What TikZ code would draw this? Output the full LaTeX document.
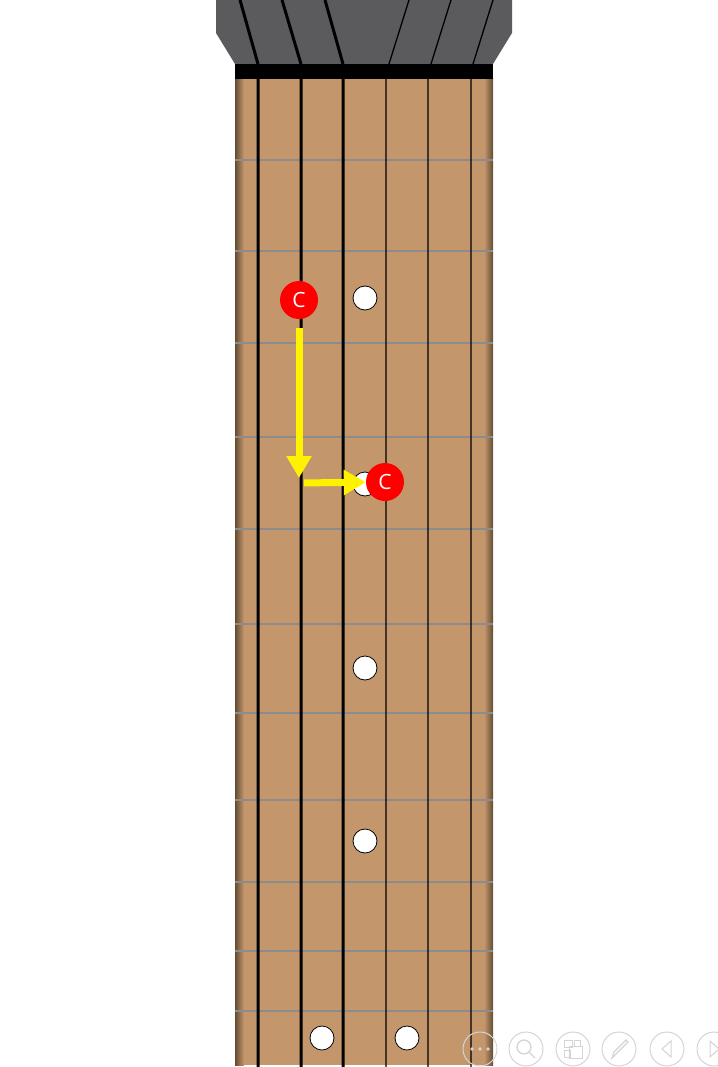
\documentclass[tikz,border=0pt]{standalone}
\usepackage{fontspec}
\setsansfont{Open Sans}
\usetikzlibrary{arrows.meta}

\definecolor{fretboard}{RGB}{195,151,107}
\definecolor{fretedge}{RGB}{100,76,52}
\definecolor{headstock}{RGB}{91,91,93}
\definecolor{fretwire}{RGB}{140,140,140}
\definecolor{iconline}{RGB}{212,212,212}

\tikzset{
    dot/.style={shape=circle, draw=black, fill=white, line width=0.8pt, minimum size=24pt, inner sep=0pt},
    note/.style={shape=circle, fill=red, text=white, minimum size=38pt, inner sep=0pt, font=\sffamily\fontsize{21}{24}\selectfont},
    move/.style={draw=yellow, line width=7pt, -{Triangle[width=24pt,length=22pt]}},
    thickstring/.style={line width=3pt},
    thinstring/.style={line width=1.3pt},
    toolbtn/.style={draw=iconline, line width=1pt}
}

\begin{document}
\begin{tikzpicture}[x=1pt, y=-1pt]
        \useasboundingbox (0,0) rectangle (717,1067);
        \fill[headstock] (216,0) -- (512,0) -- (512,33) -- (493,64) -- (235,64) -- (216,33) -- cycle;  % headstock
        \fill[fretboard] (235,79) rectangle (493,1065);                                           % fretboard
        \shade[left color=fretedge, right color=fretboard] (235,79) rectangle (244,1065);         % left edge
        \shade[left color=fretboard, right color=fretedge] (484,79) rectangle (493,1065);         % right edge
        \draw[fretwire, line width=1.3pt] (235,160) -- (493,160);
        \draw[fretwire, line width=1.3pt] (235,251) -- (493,251);
        \draw[fretwire, line width=1.3pt] (235,343) -- (493,343);
        \draw[fretwire, line width=1.3pt] (235,437) -- (493,437);
        \draw[fretwire, line width=1.3pt] (235,529) -- (493,529);
        \draw[fretwire, line width=1.3pt] (235,624) -- (493,624);
        \draw[fretwire, line width=1.3pt] (235,713) -- (493,713);
        \draw[fretwire, line width=1.3pt] (235,800) -- (493,800);
        \draw[fretwire, line width=1.3pt] (235,882) -- (493,882);
        \draw[fretwire, line width=1.3pt] (235,951) -- (493,951);
        \draw[fretwire, line width=1.3pt] (235,1011) -- (493,1011);
        \draw[thickstring] (240,0) -- (258,64) (258,79) -- (258,1067);   % string 6
        \draw[thickstring] (282,0) -- (301,64) (301,79) -- (301,1067);   % string 5
        \draw[thickstring] (325,0) -- (343,64) (343,79) -- (343,1067);   % string 4
        \draw[thinstring] (409,0) -- (389,64) (386,79) -- (386,1067);    % string 3
        \draw[thinstring] (451,0) -- (431,64) (428,79) -- (428,1067);    % string 2
        \draw[thinstring] (493,0) -- (473,64) (471,79) -- (471,1067);    % string 1
        \fill[black] (235,64) rectangle (493,79);                                                 % nut
        \node[dot](d3) at (365,298) {};
        \node[dot](d5) at (365,484) {};
        \node[dot](d7) at (365,668) {};
        \node[dot](d9) at (365,841) {};
        \node[dot](d12a) at (322,1038) {};
        \node[dot](d12b) at (407,1038) {};
        \node[note](c1) at (299,300) {C};
        \node[note](c2) at (385,482) {C};
        \coordinate (bend) at (299,483);
        \draw[move, shorten <=9pt, shorten >=5pt] (c1) -- (bend);
        \draw[move, shorten <=5pt] (bend) -- (c2);
        % slide show buttons
        \draw[toolbtn] (480,1049) circle (17);
        \fill[iconline] (472,1049) circle (1.8) (480,1049) circle (1.8) (488,1049) circle (1.8);
        \draw[toolbtn] (526,1049) circle (17);
        \draw[iconline, line width=1.3pt] (524,1047) circle (7) (529,1052) -- (535,1058);
        \draw[toolbtn] (573,1049) circle (17);
        \draw[iconline, line width=1pt] (564,1040) rectangle (572,1047) (564,1050) rectangle (570,1057) (574,1040) rectangle (580,1046) (569,1046) rectangle (582,1058);
        \draw[toolbtn] (619,1049) circle (17);
        \draw[iconline, line width=1.2pt] (612,1058) -- (614,1052) -- (626,1040) -- (628,1042) -- (616,1054) -- cycle;
        \draw[toolbtn] (667,1049) circle (17);
        \draw[iconline, line width=1pt] (671,1041) -- (671,1057) -- (662,1049) -- cycle;
        \draw[toolbtn] (714,1049) circle (17);
        \draw[iconline, line width=1pt] (710,1041) -- (710,1057) -- (719,1049) -- cycle;
    \end{tikzpicture}
\end{document}
